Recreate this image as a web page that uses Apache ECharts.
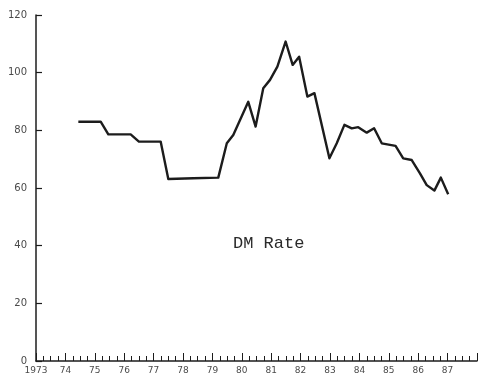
<!DOCTYPE html>
<html>
<head>
<meta charset="utf-8">
<script src="https://cdn.jsdelivr.net/npm/echarts@6/dist/echarts.min.js"></script>
<style>
  html, body { margin: 0; padding: 0; background: #fff; }
  #chart { width: 481px; height: 379px; }
</style>
</head>
<body>
<div id="chart"></div>
<script>
// DM exchange rate index, sampled at decimal-year dates
const dates = [
  1974.44, 1975.20, 1975.46, 1976.22, 1976.50, 1977.24, 1977.50, 1978.35,
  1979.20, 1979.49, 1979.71, 1980.22, 1980.47, 1980.73, 1980.96, 1981.21,
  1981.49, 1981.73, 1981.95, 1982.23, 1982.47, 1982.98, 1983.23, 1983.49,
  1983.74, 1983.96, 1984.25, 1984.50, 1984.76, 1985.23, 1985.49, 1985.78,
  1986.06, 1986.29, 1986.55, 1986.77, 1987.02
];
const rates = [
  83.0, 83.0, 78.6, 78.6, 76.1, 76.1, 63.1, 63.4,
  63.6, 75.5, 78.4, 89.9, 81.3, 94.6, 97.5, 102.1,
  110.8, 102.7, 105.5, 91.7, 92.9, 70.3, 75.5, 81.9,
  80.7, 81.1, 79.2, 80.7, 75.5, 74.6, 70.3, 69.7,
  65.1, 61.0, 59.1, 63.6, 57.8
];
const yearLabels = ['1973', '74', '75', '76', '77', '78', '79', '80',
                    '81', '82', '83', '84', '85', '86', '87', ''];
const seriesName = 'DM Rate';

const chart = echarts.init(document.getElementById('chart'));
const ink = '#1c1c1c';
const labelColor = '#4a4a4a';

chart.setOption({
  animation: false,
  backgroundColor: '#fff',
  grid: { left: 36, right: 4, top: 15, bottom: 18 },
  xAxis: {
    type: 'value',
    min: 1973,
    max: 1988,
    interval: 1,
    axisLine: { show: true, lineStyle: { color: ink, width: 1.5 } },
    axisTick: { show: true, inside: true, length: 8, lineStyle: { color: ink, width: 1 } },
    minorTick: { show: true, splitNumber: 4, length: 5, lineStyle: { color: ink, width: 1 } },
    splitLine: { show: false },
    axisLabel: {
      margin: 5,
      fontFamily: 'DejaVu Sans',
      fontSize: 9,
      color: labelColor,
      formatter: v => yearLabels[Math.round(v - 1973)] || ''
    }
  },
  yAxis: {
    type: 'value',
    min: 0,
    max: 120,
    interval: 20,
    axisLine: { show: true, lineStyle: { color: ink, width: 1.5 } },
    axisTick: { show: true, inside: true, length: 6, lineStyle: { color: ink, width: 1.2 } },
    splitLine: { show: false },
    axisLabel: {
      margin: 9,
      fontFamily: 'DejaVu Sans',
      fontSize: 10,
      color: labelColor
    }
  },
  graphic: [{
    type: 'text',
    left: 233,
    top: 235,
    style: {
      text: seriesName,
      font: '17px "Liberation Mono", "DejaVu Sans Mono", monospace',
      fill: '#2a2a2a'
    }
  }],
  series: [{
    name: seriesName,
    type: 'line',
    data: dates.map((d, i) => [d, rates[i]]),
    showSymbol: false,
    lineStyle: { color: ink, width: 2.4, join: 'round' }
  }]
});
</script>
</body>
</html>
